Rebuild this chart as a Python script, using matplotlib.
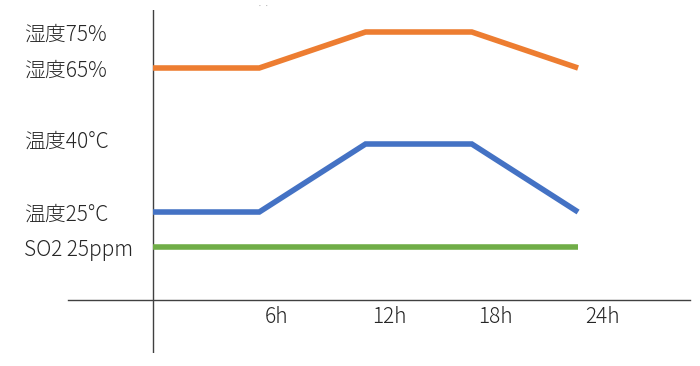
import matplotlib.pyplot as plt
import matplotlib.transforms as mtransforms

plt.rcParams['font.family'] = ['Noto Sans CJK JP', 'DejaVu Sans']

# data
hours = [0, 6, 12, 18, 24]
hour_labels = ['6h', '12h', '18h', '24h']
humidity = [65, 65, 75, 75, 65]      # %
temperature = [25, 25, 40, 40, 25]   # °C
so2 = [25, 25, 25, 25, 25]           # ppm
hum_ticks = [65, 75]
hum_labels = ['湿度65%', '湿度75%']
temp_ticks = [25, 40]
temp_labels = ['温度25°C', '温度40°C']
so2_ticks = [25]
so2_labels = ['SO2 25ppm']

text_col = '#262626'
axis_col = '#404040'
fs = 15

fig = plt.figure(figsize=(7, 3.66), dpi=100)
W, H = 700, 366
ax = fig.add_axes([68 / W, (H - 353) / H, (690 - 68) / W, (353 - 10) / H])
ax_t = ax.twinx()
ax_s = ax.twinx()

ax.set_xlim(-4.8, 30.32)
ax.set_ylim(-14.17, 81.11)
ax_t.set_ylim(-6.10, 69.56)
ax_s.set_ylim(0, 80.9)

kw = dict(lw=4, solid_capstyle='butt', solid_joinstyle='miter')
ax.plot(hours, humidity, color='#ED7D31', **kw)
ax_t.plot(hours, temperature, color='#4472C4', **kw)
ax_s.plot(hours, so2, color='#70AD47', **kw)

# axis lines
ax.axvline(0, color=axis_col, lw=1.0, zorder=0)
for a in (ax, ax_t, ax_s):
    for s in a.spines.values():
        s.set_visible(False)
ax.spines['bottom'].set_visible(True)
ax.spines['bottom'].set_position(('axes', (353 - 300) / 343))
ax.spines['bottom'].set_color(axis_col)
ax.spines['bottom'].set_linewidth(1.0)

# x tick labels, shifted right of the data points
ax.set_xticks(hours[1:])
ax.set_xticklabels(hour_labels, fontsize=fs, color=text_col, fontweight='light')
ax.tick_params(axis='x', length=0, pad=4)
x_shift_px = [17, 24, 24, 24]
for lab, dx in zip(ax.get_xticklabels(), x_shift_px):
    lab.set_transform(lab.get_transform() +
                      mtransforms.ScaledTranslation(dx / 100, 0, fig.dpi_scale_trans))

# y labels on the left, left aligned
pad_pt = (68 - 24) * 72 / 100
for a, ticks, labels in ((ax, hum_ticks, hum_labels),
                         (ax_t, temp_ticks, temp_labels),
                         (ax_s, so2_ticks, so2_labels)):
    a.yaxis.tick_left()
    a.set_yticks(ticks)
    a.set_yticklabels(labels, fontsize=fs, color=text_col, ha='left',
                      fontweight='light')
    a.tick_params(axis='y', length=0, pad=pad_pt)

# the 40°C label sits a bit above its line in the original
lab40 = ax_t.get_yticklabels()[1]
lab40.set_transform(lab40.get_transform() +
                    mtransforms.ScaledTranslation(0, 5 / 100, fig.dpi_scale_trans))

fig.text(263 / W, 1 - 6 / H, '·  ·', fontsize=5, color='#888888',
         ha='center', va='center')

fig.savefig('out.png', dpi=100)
